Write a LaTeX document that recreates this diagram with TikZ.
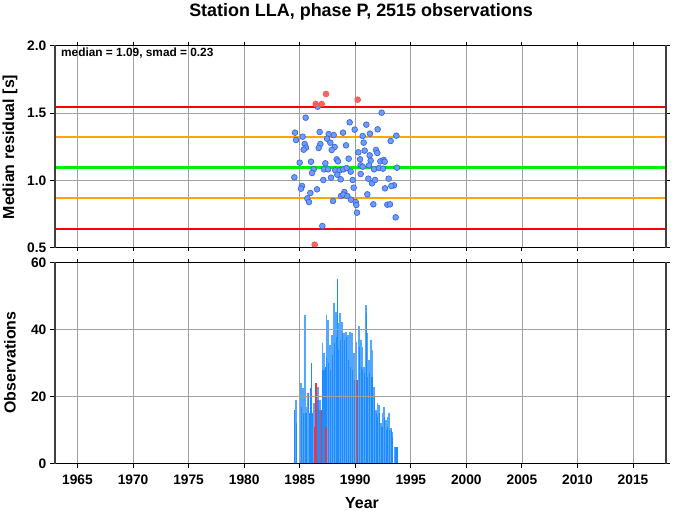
\documentclass[tikz,border=0pt]{standalone}
\usepackage{fontspec}
\setmainfont{Liberation Sans}
\definecolor{gridc}{HTML}{A0A0A0}
\definecolor{framec}{HTML}{404040}
\definecolor{lbar}{HTML}{52A8FF}
\definecolor{dbar}{HTML}{1E8CFF}
\definecolor{rbar}{HTML}{EE3344}
\definecolor{bfill}{HTML}{6E9CFF}
\definecolor{bline}{HTML}{3A66E0}
\definecolor{rfill}{HTML}{FF6464}
\definecolor{rline}{HTML}{F04848}
\definecolor{orangec}{HTML}{FFA500}
\definecolor{greenc}{HTML}{00F000}
\begin{document}
\begin{tikzpicture}[x=1bp,y=-1bp,
  gridl/.style={draw=gridc,line width=0.8bp},
  tickl/.style={draw=black,line width=0.9bp},
  hframe/.style={draw=black,line width=1.3bp},
  vframe/.style={draw=framec,line width=2bp},
  bpt/.style={fill=bfill,draw=bline,line width=0.7bp},
  rpt/.style={fill=rfill,draw=rline,line width=0.5bp},
  ticklab/.style={font=\fontsize{13.8}{15}\selectfont\bfseries,inner sep=0pt},
  axlab/.style={font=\fontsize{16}{18}\selectfont\bfseries,inner sep=0pt}]
\useasboundingbox (0,0) rectangle (673,511);
\def\XL{54.6}\def\XR{665.7}
\def\TT{45.7}\def\TB{247.6}
\def\BT{262.3}\def\BB{463.3}
% title
\node[font=\fontsize{18}{20}\selectfont\bfseries,inner sep=0pt] (title) at (361,12) {Station LLA, phase P, 2515 observations};
% ---------- top panel ----------
\foreach \yr in {1965,1970,...,2015}{
  \draw[gridl] ({77.5+(\yr-1965)*11.11},\TT) -- ({77.5+(\yr-1965)*11.11},\TB);
  \draw[tickl] ({77.5+(\yr-1965)*11.11},\TT) -- ({77.5+(\yr-1965)*11.11},{\TT-3.5});
  \draw[tickl] ({77.5+(\yr-1965)*11.11},\TB) -- ({77.5+(\yr-1965)*11.11},{\TB+3.5});
}
\foreach \yy in {113.1,180.5}{ \draw[gridl] (\XL,\yy) -- (\XR,\yy); }
\draw[red,line width=2bp] (\XL,106.6) -- (\XR,106.6);
\draw[orangec,line width=1.8bp] (\XL,137.1) -- (\XR,137.1);
\draw[greenc,line width=2.8bp] (\XL,167.6) -- (\XR,167.6);
\draw[orangec,line width=1.8bp] (\XL,198.3) -- (\XR,198.3);
\draw[red,line width=2bp] (\XL,228.8) -- (\XR,228.8);
\foreach \a/\b in {143/80,107/113,335/98,239/127,289/134,75/158,149/156,98/170,176/162,191/165,219/158,254/149,323/148,300/161,278/168,379/167,78/180,171/176,181/188,151/192,104/192,108/203,101/209,146/204,194/201,185/210,228/196,281/188,362/183,265/217,284/212,318/210,322/219,299/226,270/238,302/242,331/244,341/240,344/245,89/248,123/245,166/250,200/238,204/244,236/236,131/268,126/279,162/268,174/268,196/271,209/271,220/268,230/264,242/275,272/256,278/260,297/256,312/268,327/264,339/266,381/263,73/292,160/300,183/293,202/284,212/298,248/300,272/282,295/296,306/310,315/300,356/296,372/316,364/318,345/325,96/318,93/326,141/328,121/339,251/323,112/355,117/366,189/363,213/348,223/336,220/344,232/348,243/359,257/366,259/375,292/343,310/373,352/374,360/373,261/398,377/412,157/438}{
  \filldraw[bpt] ({270+\a/3},{80+\b/3}) circle (2.85);
}
\foreach \a/\b in {168/42,137/72,155/72,263/59,134/494}{
  \filldraw[rpt] ({270+\a/3},{80+\b/3}) circle (2.95);
}
\foreach \yy in {45.7,113.1,180.5,247.6}{
  \draw[tickl] (\XL,\yy) -- (\XL-4.5,\yy);
  \draw[tickl] (\XR,\yy) -- (\XR+4.5,\yy);
}
\draw[hframe] (\XL,\TT) -- (\XR,\TT);
\draw[hframe] (\XL,\TB) -- (\XR,\TB);
\draw[vframe] (\XL,\TT-0.6) -- (\XL,\TB+0.6);
\draw[vframe] (\XR,\TT-0.6) -- (\XR,\TB+0.6);
\node[font=\fontsize{11.9}{13}\selectfont\bfseries,inner sep=0pt,anchor=west] (stat) at (61,53.4) {median = 1.09, smad = 0.23};
\node[ticklab,anchor=east] (t20) at (46.5,45.7) {2.0};
\node[ticklab,anchor=east] (t15) at (46.5,113.1) {1.5};
\node[ticklab,anchor=east] (t10) at (46.5,180.5) {1.0};
\node[ticklab,anchor=east] (t05) at (46.5,247.6) {0.5};
\node[axlab,rotate=90] (ylab1) at (10,147) {Median residual [s]};
% ---------- bottom panel ----------
\foreach \a/\b/\l/\d in {12/15/420/420,15/21/390/460,27/30/340/350,30/36/340/410,36/42/355/430,42/47/135/430,47/52/410/430,52/55/370/370,55/60/430/430,60/63/355/355,63/66/280/280,66/70/430/430,70/73/400/470,73/76/400/470,76/80/350/400,80/86/350/390,86/92/390/420,92/95/420/420,95/98/218/300,98/104/250/300,104/107/290/290,107/112/135/260,112/118/150/280,118/124/225/300,124/130/195/255,130/136/100/220,136/141/125/200,141/143/28/28,143/148/160/240,148/154/130/210,154/160/155/190,160/166/190/210}{
  \fill[lbar] ({290+\a/3},\BB) rectangle ({290+\b/3},{270+\l/3});
  \fill[dbar] ({290+\a/3+(\b-\a)/9},\BB) rectangle ({290+\b/3},{270+\d/3});
}
\foreach \a/\b/\l/\d in {0/6/185/200,6/12/195/270,12/18/185/290,18/24/190/300,24/30/250/330,30/36/215/330,36/40/330/330,40/45/168/230,45/50/210/290,50/55/230/300,55/60/290/310,60/65/105/130,65/70/190/320,70/75/270/310,75/80/210/320,80/85/240/320,85/90/350/380,90/95/420/430,95/100/400/440,100/105/405/430,105/110/460/470,110/115/430/470,115/120/410/440,120/125/450/480,125/130/440/470,130/135/430/480,135/140/475/480,140/145/485/500,148/158/530/530}{
  \fill[lbar] ({345+\a/3},\BB) rectangle ({345+\b/3},{270+\l/3});
  \fill[dbar] ({345+\a/3+(\b-\a)/9},\BB) rectangle ({345+\b/3},{270+\d/3});
}
\foreach \xa/\xb/\yt in {314.0/315.3/426.7,315.3/316.7/383.3,321/322/410,325.3/326.7/426.7,357/358.3/380}{
  \fill[rbar] (\xa,\BB) rectangle (\xb,\yt);
}
\foreach \yr in {1965,1970,...,2015}{
  \draw[gridl] ({77.5+(\yr-1965)*11.11},\BT) -- ({77.5+(\yr-1965)*11.11},\BB);
  \draw[tickl] ({77.5+(\yr-1965)*11.11},\BT) -- ({77.5+(\yr-1965)*11.11},{\BT-3.5});
  \draw[tickl] ({77.5+(\yr-1965)*11.11},\BB) -- ({77.5+(\yr-1965)*11.11},{\BB+4.5});
  \node[ticklab] (yl\yr) at ({77.5+(\yr-1965)*11.11},479.5) {\yr};
}
\foreach \yy in {329.3,396.3}{ \draw[gridl] (\XL,\yy) -- (\XR,\yy); }
\foreach \yy in {262.3,329.3,396.3,463.3}{
  \draw[tickl] (\XL,\yy) -- (\XL-4.5,\yy);
  \draw[tickl] (\XR,\yy) -- (\XR+4.5,\yy);
}
\draw[hframe] (\XL,\BT) -- (\XR,\BT);
\draw[hframe] (\XL,\BB) -- (\XR,\BB);
\draw[vframe] (\XL,\BT-0.6) -- (\XL,\BB+0.6);
\draw[vframe] (\XR,\BT-0.6) -- (\XR,\BB+0.6);
\node[ticklab,anchor=east] (o60) at (46.5,262.3) {60};
\node[ticklab,anchor=east] (o40) at (46.5,329.3) {40};
\node[ticklab,anchor=east] (o20) at (46.5,396.3) {20};
\node[ticklab,anchor=east] (o0) at (46.5,463.3) {0};
\node[axlab,rotate=90] (ylab2) at (10,362.5) {Observations};
\node[axlab] (xlab) at (362,503) {Year};
\end{tikzpicture}
\end{document}
